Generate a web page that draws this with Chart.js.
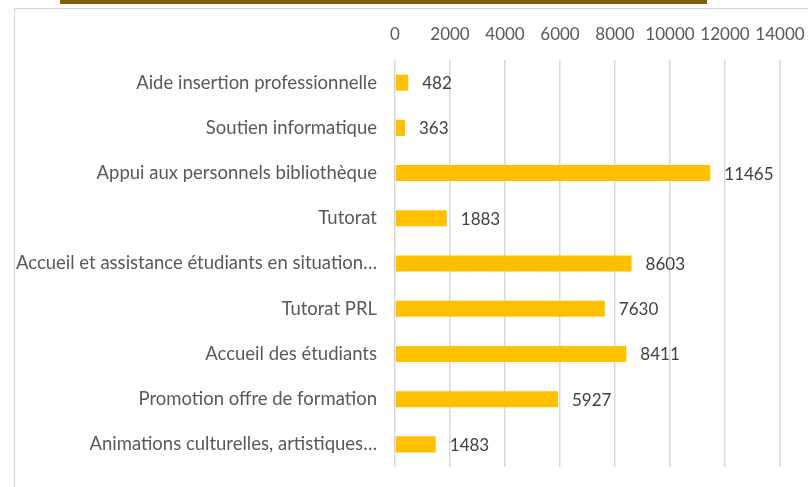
<!DOCTYPE html>
<html>
<head>
<meta charset="utf-8">
<script src="https://cdn.jsdelivr.net/npm/chart.js@4/dist/chart.umd.min.js"></script>
<style>
  html, body { margin: 0; padding: 0; background: #ffffff; }
  #wrap { position: relative; width: 808px; height: 487px; overflow: hidden; background: #ffffff; }
  #band { position: absolute; left: 60px; top: 0; width: 647px; height: 4px; background: #7f6000; }
  #frameTop { position: absolute; left: 14px; top: 8px; width: 800px; height: 1px; background: #d4d4d4; }
  #frameLeft { position: absolute; left: 14px; top: 8px; width: 1px; height: 480px; background: #d4d4d4; }
  canvas { position: absolute; left: 0; top: 0; }
</style>
</head>
<body>
<div id="wrap">
  <canvas id="c" width="808" height="487"></canvas>
  <div id="band"></div>
  <div id="frameTop"></div>
  <div id="frameLeft"></div>
</div>
<script>
const categories = [
  "Aide insertion professionnelle",
  "Soutien informatique",
  "Appui aux personnels bibliothèque",
  "Tutorat",
  "Accueil et assistance étudiants en situation…",
  "Tutorat PRL",
  "Accueil des étudiants",
  "Promotion offre de formation",
  "Animations culturelles, artistiques…"
];
const values = [482, 363, 11465, 1883, 8603, 7630, 8411, 5927, 1483];
const axisMin = 0;
const axisMax = 14000;
const axisStep = 2000;

const FONT = "Lato, 'Open Sans', sans-serif";

const valueLabels = {
  id: 'valueLabels',
  afterDatasetsDraw(chart) {
    const ctx = chart.ctx;
    const meta = chart.getDatasetMeta(0);
    ctx.save();
    ctx.font = "17px " + FONT;
    ctx.fillStyle = '#404040';
    ctx.textAlign = 'left';
    ctx.textBaseline = 'middle';
    meta.data.forEach((bar, i) => {
      ctx.fillText(String(chart.data.datasets[0].data[i]), bar.x + 14, bar.y + 1);
    });
    ctx.restore();
  }
};

new Chart(document.getElementById('c'), {
  type: 'bar',
  data: {
    labels: categories,
    datasets: [{
      data: values,
      backgroundColor: '#ffc000',
      borderWidth: 0,
      categoryPercentage: 1,
      barPercentage: 0.355
    }]
  },
  options: {
    indexAxis: 'y',
    responsive: false,
    animation: false,
    devicePixelRatio: 1,
    layout: { padding: { left: 0, right: 28, top: 0, bottom: 20 } },
    plugins: { legend: { display: false }, tooltip: { enabled: false } },
    scales: {
      x: {
        position: 'top',
        min: axisMin,
        max: axisMax,
        ticks: {
          stepSize: axisStep,
          color: '#595959',
          font: { family: FONT, size: 17 },
          padding: 15,
          maxRotation: 0,
          autoSkip: false,
          callback: (v) => String(v)
        },
        grid: { color: '#d9d9d9', lineWidth: 1.5, drawTicks: false },
        border: { display: false },
        afterFit(scale) {
          scale.height = 60;
          scale.paddingLeft = 0; scale.paddingRight = 0;
        }
      },
      y: {
        ticks: {
          color: '#595959',
          font: { family: FONT, size: 18.5 },
          padding: 18,
          autoSkip: false
        },
        grid: { display: false, drawTicks: false },
        border: { display: false },
        afterFit(scale) {
          scale.width = 395;
          scale.paddingTop = 0; scale.paddingBottom = 0;
        }
      }
    }
  },
  plugins: [valueLabels]
});
</script>
</body>
</html>
